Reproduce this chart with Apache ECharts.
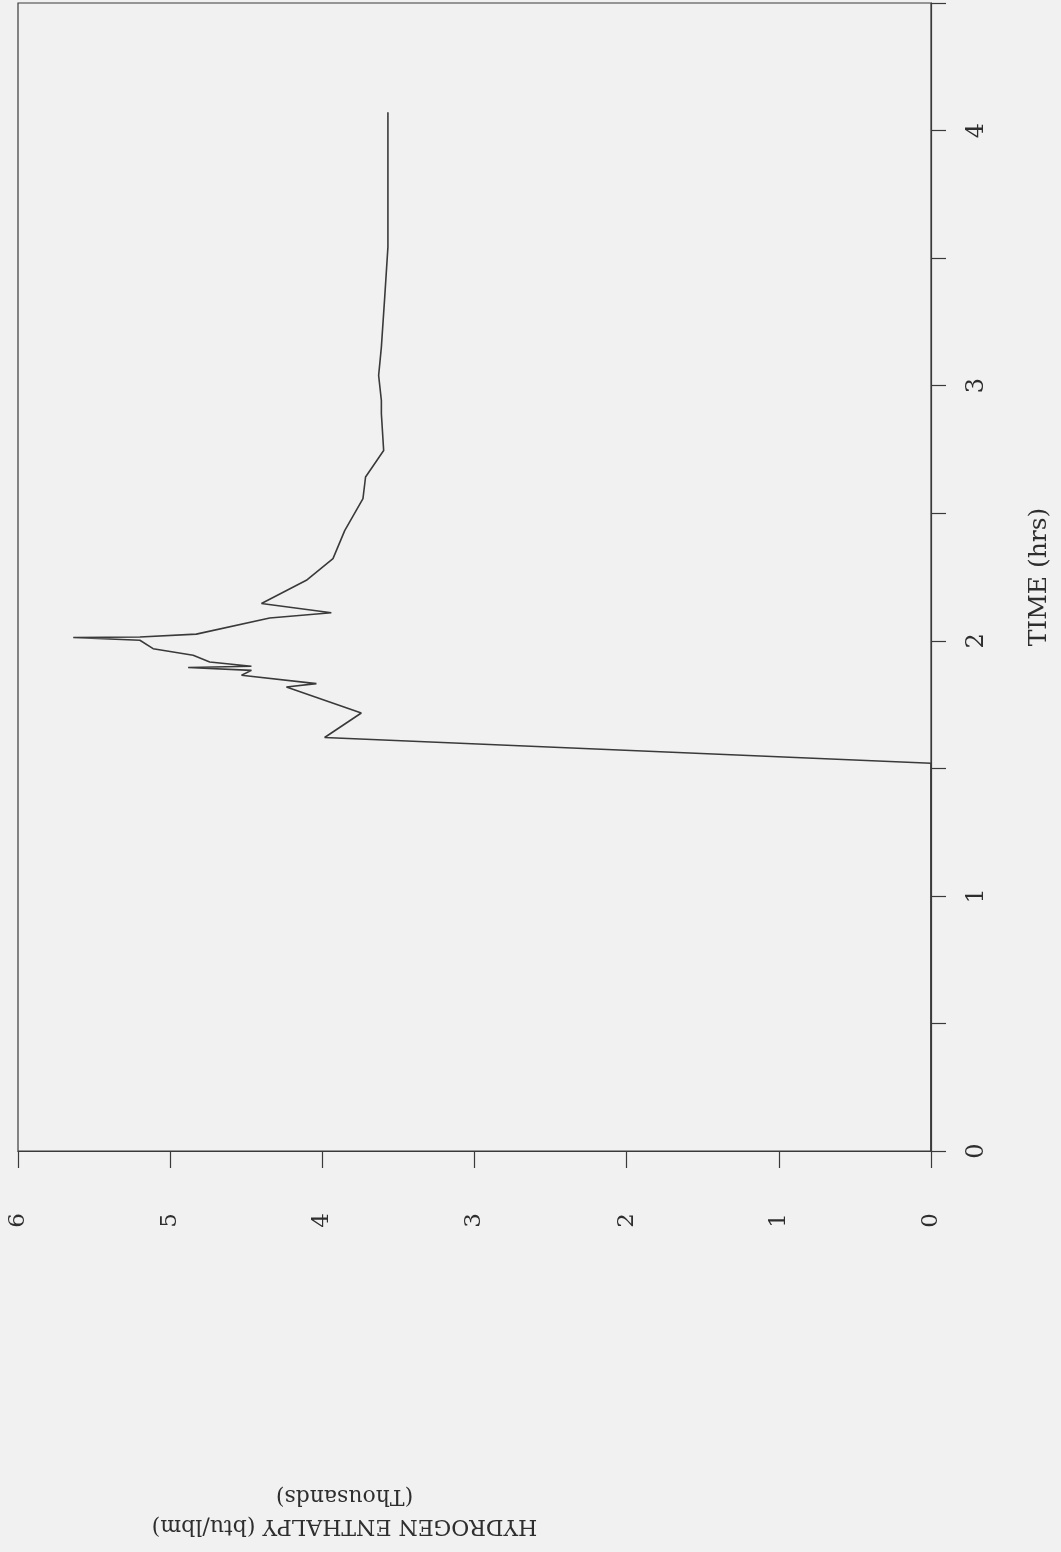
<!DOCTYPE html>
<html>
<head>
<meta charset="utf-8">
<script src="https://cdn.jsdelivr.net/npm/echarts@6/dist/echarts.min.js"></script>
<style>
  html, body { margin: 0; padding: 0; background: #f1f1f1; }
  #chart { width: 1061px; height: 1552px; }
</style>
</head>
<body>
<div id="chart"></div>
<script>
// Time (hrs) and hydrogen enthalpy (thousands of btu/lbm)
const timeHrs = [0.000, 1.520, 1.621, 1.717, 1.819, 1.832, 1.865, 1.884, 1.895, 1.900, 1.917, 1.943, 1.969, 2.002, 2.013, 2.015, 2.026, 2.089, 2.110, 2.146, 2.237, 2.322, 2.432, 2.557, 2.642, 2.746, 2.890, 2.942, 3.040, 3.151, 3.347, 3.543, 4.072];
const enthalpy = [0.000, 0.000, 3.985, 3.744, 4.236, 4.039, 4.531, 4.466, 4.882, 4.466, 4.740, 4.849, 5.112, 5.199, 5.637, 5.199, 4.828, 4.346, 3.941, 4.400, 4.105, 3.930, 3.853, 3.733, 3.716, 3.597, 3.612, 3.612, 3.630, 3.612, 3.590, 3.569, 3.569];
const enthalpyTicks = ['0', '1', '2', '3', '4', '5', '6'];
const timeTicks = ['0', '1', '2', '3', '4'];
const timeAxisName = 'TIME (hrs)';
const enthalpyAxisName = 'HYDROGEN ENTHALPY (btu/lbm)\n(Thousands)';

const seriesData = timeHrs.map((t, i) => [enthalpy[i], t]);
const font = 'DejaVu Serif';
const ink = '#3a3a3a';

const chart = echarts.init(document.getElementById('chart'), null, { renderer: 'canvas' });
chart.setOption({
  backgroundColor: '#f1f1f1',
  animation: false,
  grid: {
    left: 18, right: 130, top: 3, bottom: 401,
    show: true, borderColor: ink, borderWidth: 1.2, backgroundColor: 'transparent'
  },
  xAxis: {
    type: 'value', min: 0, max: 6, interval: 1, inverse: true, position: 'bottom',
    axisLine: { show: true, lineStyle: { color: ink, width: 1.2 } },
    axisTick: { show: true, length: 17, lineStyle: { color: ink, width: 1.2 } },
    splitLine: { show: false },
    axisLabel: {
      rotate: 90, margin: 62, fontSize: 23, fontFamily: font, color: '#2e2e2e',
      formatter: v => enthalpyTicks[Math.round(v)] ?? ''
    },
    name: enthalpyAxisName, nameLocation: 'middle', nameRotate: 180, nameGap: 330,
    nameTextStyle: { fontFamily: font, fontSize: 22, color: '#2e2e2e', lineHeight: 30, align: 'center', padding: [0, 0, 0, 260] }
  },
  yAxis: {
    type: 'value', min: 0, max: 4.5, interval: 0.5, position: 'right',
    axisLine: { show: true, lineStyle: { color: ink, width: 1.2 } },
    axisTick: { show: true, length: 15, lineStyle: { color: ink, width: 1.2 } },
    splitLine: { show: false },
    axisLabel: {
      rotate: 90, margin: 34, fontSize: 24, fontFamily: font, color: '#2e2e2e',
      formatter: v => Number.isInteger(v) ? (timeTicks[v] ?? '') : ''
    },
    name: timeAxisName, nameLocation: 'middle', nameRotate: 90, nameGap: 96,
    nameTextStyle: { fontFamily: font, fontSize: 25, color: '#2e2e2e' }
  },
  series: [{
    type: 'line', data: seriesData, showSymbol: false, symbol: 'none',
    lineStyle: { color: ink, width: 1.6 }, z: 3
  }]
});
</script>
</body>
</html>
